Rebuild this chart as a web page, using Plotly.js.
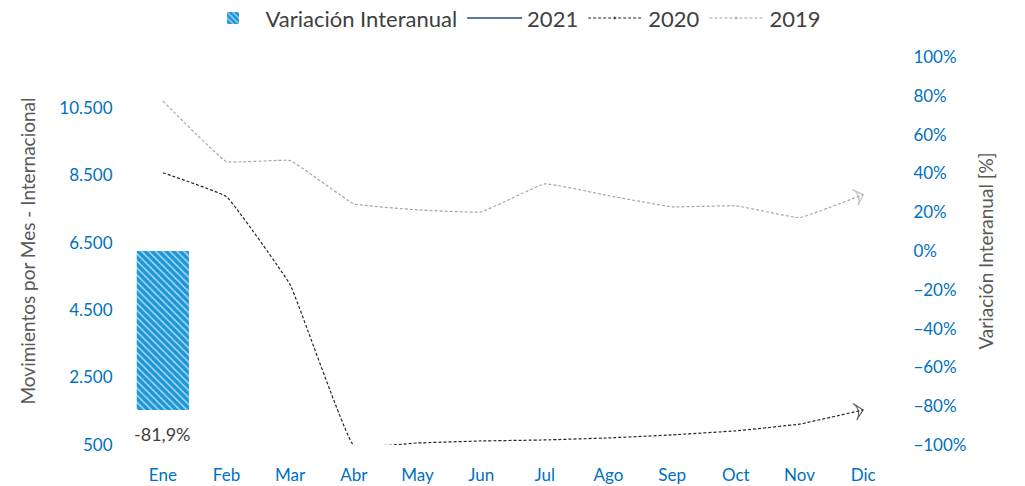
<!DOCTYPE html>
<html>
<head>
<meta charset="utf-8">
<script src="https://cdn.plot.ly/plotly-3.0.1.min.js"></script>
<style>
  body { margin: 0; background: #fff; }
  #chart { width: 1025px; height: 486px; }
</style>
</head>
<body>
<div id="chart"></div>
<script>
// Data
var meses = ["Ene", "Feb", "Mar", "Abr", "May", "Jun", "Jul", "Ago", "Sep", "Oct", "Nov", "Dic"];
var mov2019 = [10700, 8900, 8930, 7650, 7470, 7410, 8240, 7890, 7560, 7590, 7240, 7920];
var mov2020 = [8570, 7860, 5250, 480, 560, 620, 650, 710, 800, 920, 1120, 1540];
var mov2021 = [1550];
var variacion = [-81.9];

var labelFont = "Lato, 'Open Sans', sans-serif";
var blue = "#0070C0";

// size array: arrow head only on the last point
function arrowSizes(n, s) {
    var out = [];
    for (var i = 0; i < n; i++) out.push(i == n - 1 ? s : 0);
    return out;
}

function pct(v) {
    return v.toFixed(1).replace(".", ",") + "%";
}

var data = [
    {
        type: "bar",
        name: "Variación Interanual",
        x: meses.slice(0, variacion.length),
        y: variacion,
        yaxis: "y2",
        width: 0.82,
        marker: {
            color: "#1E96D6",
            pattern: { shape: "\\", bgcolor: "#1E96D6", fgcolor: "#A6D9F3", size: 5, solidity: 0.3 }
        }
    },
    {
        type: "scatter",
        mode: "lines",
        name: "2021",
        x: meses.slice(0, mov2021.length),
        y: mov2021,
        line: { color: "#1F4E79", width: 1.3 }
    },
    {
        type: "scatter",
        mode: "lines+markers",
        name: "2020",
        x: meses,
        y: mov2020,
        line: { color: "#262626", width: 1.2, dash: "3px,2px", shape: "spline", smoothing: 0.25 },
        marker: { symbol: "arrow-wide-open", angleref: "previous", size: arrowSizes(meses.length, 12),
                  color: "#262626", line: { color: "#262626", width: 1.2 } }
    },
    {
        type: "scatter",
        mode: "lines+markers",
        name: "2019",
        x: meses,
        y: mov2019,
        line: { color: "#A6A6A6", width: 1.2, dash: "3px,2px", shape: "spline", smoothing: 0.25 },
        marker: { symbol: "arrow-wide-open", angleref: "previous", size: arrowSizes(meses.length, 12),
                  color: "#A6A6A6", line: { color: "#A6A6A6", width: 1.2 } }
    }
];

// bar value labels, a bit below the bar end
var annotations = variacion.map(function (v, i) {
    return {
        x: meses[i], y: v, xref: "x", yref: "y2",
        text: pct(v), showarrow: false,
        yanchor: "top", yshift: -11,
        font: { family: labelFont, size: 18, color: "#404040" }
    };
});

var layout = {
    width: 1025,
    height: 486,
    margin: { l: 131, r: 130, t: 57, b: 41, autoexpand: false },
    paper_bgcolor: "#fff",
    plot_bgcolor: "#fff",
    separators: ",.",
    showlegend: true,
    legend: {
        orientation: "h",
        x: 0.5, xanchor: "center",
        y: 1.10, yanchor: "middle",
        font: { family: labelFont, size: 22, color: "#404040" },
        itemwidth: 55,
        traceorder: "normal"
    },
    annotations: annotations,
    xaxis: {
        type: "category",
        range: [-0.5, 11.5],
        showgrid: false, zeroline: false, showline: false,
        ticks: "",
        ticklabelstandoff: 18,
        tickfont: { family: labelFont, size: 17, color: blue }
    },
    yaxis: {
        range: [500, 12000],
        tickvals: [500, 2500, 4500, 6500, 8500, 10500],
        tickformat: ",d",
        separatethousands: true,
        showgrid: false, zeroline: false, showline: false,
        ticks: "outside", ticklen: 14, tickcolor: "rgba(0,0,0,0)",
        tickfont: { family: labelFont, size: 17, color: blue },
        title: { text: "Movimientos por Mes - Internacional", standoff: 18,
                 font: { family: labelFont, size: 19, color: "#595959" } }
    },
    yaxis2: {
        overlaying: "y",
        side: "right",
        range: [-100, 100],
        dtick: 20,
        ticksuffix: "%",
        showgrid: false, zeroline: false, showline: false,
        ticks: "outside", ticklen: 14, tickcolor: "rgba(0,0,0,0)",
        tickfont: { family: labelFont, size: 17, color: blue },
        title: { text: "Variación Interanual [%]", standoff: 14,
                 font: { family: labelFont, size: 19, color: "#595959" } }
    },
    bargap: 0.18
};

Plotly.newPlot("chart", data, layout, { displayModeBar: false, staticPlot: true });
</script>
</body>
</html>
